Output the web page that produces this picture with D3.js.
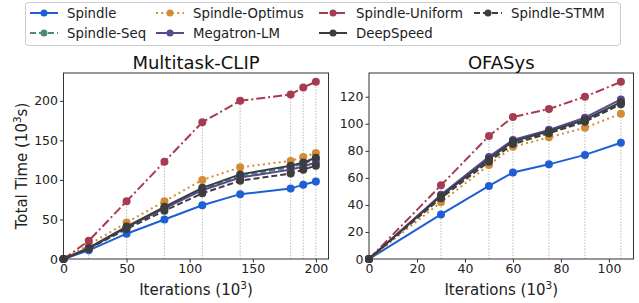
<!DOCTYPE html>
<html><head><meta charset="utf-8">
<script src="https://cdn.jsdelivr.net/npm/d3@7"></script>
<style>
body{margin:0;background:#fff;}
text{font-family:"DejaVu Sans",sans-serif;}
</style></head>
<body><svg id="c" width="639" height="303"></svg>
<script>
// ---- data ----
const seriesNames = ["Spindle","Spindle-Seq","Spindle-Optimus","Megatron-LM","Spindle-Uniform","DeepSpeed","Spindle-STMM"];
const clipIters = [0,20,50,80,110,140,180,190,200];
const clipSpindle  = [0,11,32,50,68,82,89,94,98];
const clipSeq      = [0,14,40,65,89,105,116,121,126];
const clipOptimus  = [0,18,46,73,100,116,124,129,134];
const clipMegatron = [0,13,40,64,87,103,113,117,122];
const clipUniform  = [0,23,73,123,173,200,208,217,224];
const clipDeep     = [0,14,41,66,90,107,118,122,128];
const clipSTMM     = [0,13,38,61,83,99,108,113,118];
const ofaIters = [0,30,50,60,75,90,105];
const ofaSpindle  = [0,33,54,64,70,77,86];
const ofaSeq      = [0,46,73,86,93.5,102,115];
const ofaOptimus  = [0,42,69.5,83,90,97,107.5];
const ofaMegatron = [0,47.5,75.5,88,95.5,104.5,118];
const ofaUniform  = [0,54.5,91,105,111,120,131];
const ofaDeep     = [0,46.5,74,87,94.5,103,116];
const ofaSTMM     = [0,45,72,85,93,101.5,114.5];
const clipXTicks = [0,50,100,150,200];
const clipYTicks = [0,50,100,150,200];
const ofaXTicks = [0,20,40,60,80,100];
const ofaYTicks = [0,20,40,60,80,100,120];

// ---- styles ----
const styles = {
  "Spindle":        {color:"#1f5fd6", dash:null},
  "Spindle-Seq":    {color:"#4e8a7b", dash:"6,3"},
  "Spindle-Optimus":{color:"#d48b36", dash:"2,3.3"},
  "Megatron-LM":    {color:"#584a8e", dash:null},
  "Spindle-Uniform":{color:"#a63b52", dash:"9,3,2,3"},
  "DeepSpeed":      {color:"#3c3c44", dash:null},
  "Spindle-STMM":   {color:"#3d3d3d", dash:"6,3"}
};

const svg = d3.select("#c");

function panel(opts){
  const {xr, yr, xd, yd, iters, series, xticks, yticks, title} = opts;
  const x = d3.scaleLinear().domain(xd).range(xr);
  const y = d3.scaleLinear().domain(yd).range(yr);
  const g = svg.append("g");
  const maxes = iters.map((_, i) => d3.max(series, s => s[i]));
  g.selectAll("line.guide").data(iters.map((v,i)=>({v, m:maxes[i]})).filter(d=>d.v>0)).join("line")
    .attr("x1", d=>x(d.v)).attr("x2", d=>x(d.v))
    .attr("y1", y(0)).attr("y2", d=>y(d.m))
    .attr("stroke","#bbbbbb").attr("stroke-width",1).attr("stroke-dasharray","1.5,1.5");
  const line = d3.line().x((d,i)=>x(iters[i])).y(d=>y(d));
  seriesNames.forEach((name, k) => {
    const st = styles[name];
    const vals = series[k];
    g.append("path").datum(vals).attr("d", line)
      .attr("fill","none").attr("stroke", st.color).attr("stroke-width",2)
      .attr("stroke-dasharray", st.dash);
    g.selectAll(null).data(vals).join("circle")
      .attr("cx",(d,i)=>x(iters[i])).attr("cy", d=>y(d)).attr("r",4)
      .attr("fill", st.color);
  });
  const xa = g.append("g").attr("transform",`translate(0,${yr[0]})`)
    .call(d3.axisBottom(x).tickValues(xticks).tickSize(3.5).tickPadding(2));
  const ya = g.append("g").attr("transform",`translate(${xr[0]},0)`)
    .call(d3.axisLeft(y).tickValues(yticks).tickSize(3.5).tickPadding(2));
  [xa, ya].forEach(a => {
    a.select(".domain").remove();
    a.selectAll("line").attr("stroke","#333");
    a.selectAll("text").attr("font-size","12.5px").attr("fill","#222").attr("font-family","DejaVu Sans");
  });
  g.append("rect").attr("x",xr[0]).attr("y",yr[1]).attr("width",xr[1]-xr[0]).attr("height",yr[0]-yr[1])
    .attr("fill","none").attr("stroke","#333").attr("stroke-width",1);
  g.append("text").attr("x",(xr[0]+xr[1])/2).attr("y",yr[1]-4).attr("text-anchor","middle")
    .attr("font-size","18px").attr("fill","#111").text(title);
  const xl = g.append("text").attr("x",(xr[0]+xr[1])/2).attr("y",295).attr("text-anchor","middle")
    .attr("font-size","15px").attr("fill","#222");
  xl.append("tspan").text("Iterations (10");
  xl.append("tspan").attr("font-size","10.5px").attr("dy",-6).text("3");
  xl.append("tspan").attr("dy",6).text(")");
  return {x,y};
}

panel({xr:[63.5,328.5], yr:[259,73], xd:[0,210], yd:[0,235.2], iters:clipIters,
  series:[clipSpindle,clipSeq,clipOptimus,clipMegatron,clipUniform,clipDeep,clipSTMM],
  xticks:clipXTicks, yticks:clipYTicks, title:"Multitask-CLIP"});
panel({xr:[369,633.5], yr:[259,73], xd:[0,110.25], yd:[0,137.55], iters:ofaIters,
  series:[ofaSpindle,ofaSeq,ofaOptimus,ofaMegatron,ofaUniform,ofaDeep,ofaSTMM],
  xticks:ofaXTicks, yticks:ofaYTicks, title:"OFASys"});

const yl = svg.append("text").attr("transform","translate(27,166) rotate(-90)")
  .attr("text-anchor","middle").attr("font-size","15px").attr("fill","#222");
yl.append("tspan").text("Total Time (10");
yl.append("tspan").attr("font-size","10.5px").attr("dy",-6).text("3");
yl.append("tspan").attr("dy",6).text("s)");

// legend
const lg = svg.append("g");
lg.append("rect").attr("x",25.5).attr("y",2.5).attr("width",595).attr("height",43).attr("rx",3)
  .attr("fill","#fff").attr("stroke","#cccccc");
const colX = [30, 156, 319, 474];
const rowY = [13, 33];
seriesNames.forEach((name,k)=>{
  const col = Math.floor(k/2), row = k%2;
  const st = styles[name];
  const gx = colX[col], gy = rowY[row];
  lg.append("line").attr("x1",gx).attr("x2",gx+28).attr("y1",gy).attr("y2",gy)
    .attr("stroke",st.color).attr("stroke-width",2).attr("stroke-dasharray",st.dash);
  lg.append("circle").attr("cx",gx+14).attr("cy",gy).attr("r",3.5).attr("fill",st.color);
  lg.append("text").attr("x",gx+37).attr("y",gy).attr("dy","0.36em")
    .attr("font-size","13.3px").attr("fill","#222").text(name);
});
</script></body></html>
